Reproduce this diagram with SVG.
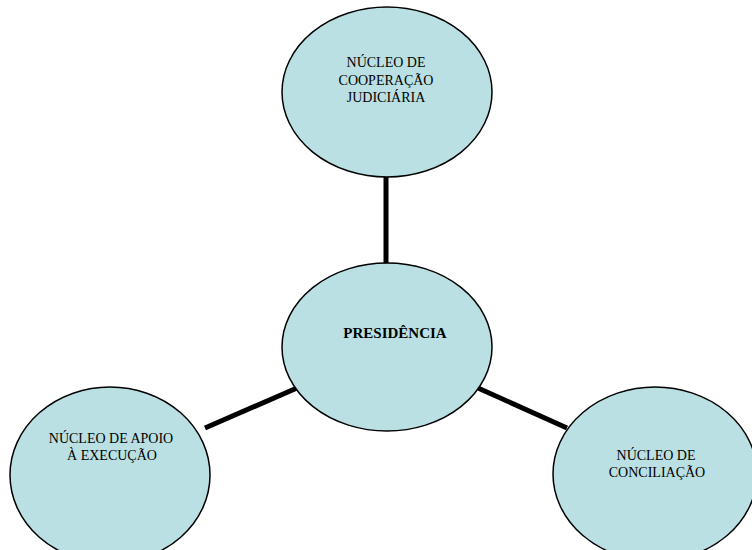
<svg xmlns="http://www.w3.org/2000/svg" width="752" height="550" viewBox="0 0 752 550">
<style>
.node ellipse{fill:#bae0e3;stroke:#000;stroke-width:1.5}
.node text{font-family:"Liberation Serif",serif;font-size:14px;fill:#000;text-anchor:middle}
.node text.b{font-weight:bold;font-size:15px}
.conn line{stroke:#000;stroke-width:5}
</style>
<rect width="752" height="550" fill="#fff"/>
<g id="connectors" class="conn">
<line x1="386" y1="177" x2="386" y2="264"/>
<line x1="205" y1="428" x2="297" y2="388"/>
<line x1="478" y1="388" x2="567" y2="428"/>
</g>
<g id="n-cooperacao" class="node">
<ellipse cx="387" cy="92" rx="105" ry="85"/>
<text x="386" y="67">NÚCLEO DE</text>
<text x="386" y="85">COOPERAÇÃO</text>
<text x="386" y="102">JUDICIÁRIA</text>
</g>
<g id="n-presidencia" class="node">
<ellipse cx="387" cy="347" rx="105" ry="84"/>
<text class="b" x="395" y="338">PRESIDÊNCIA</text>
</g>
<g id="n-apoio" class="node">
<ellipse cx="110" cy="475" rx="100" ry="88"/>
<text x="111" y="443">NÚCLEO DE APOIO</text>
<text x="112" y="460">À EXECUÇÃO</text>
</g>
<g id="n-conciliacao" class="node">
<ellipse cx="655" cy="474" rx="102" ry="87"/>
<text x="656" y="460">NÚCLEO DE</text>
<text x="657" y="477">CONCILIAÇÃO</text>
</g>
</svg>
